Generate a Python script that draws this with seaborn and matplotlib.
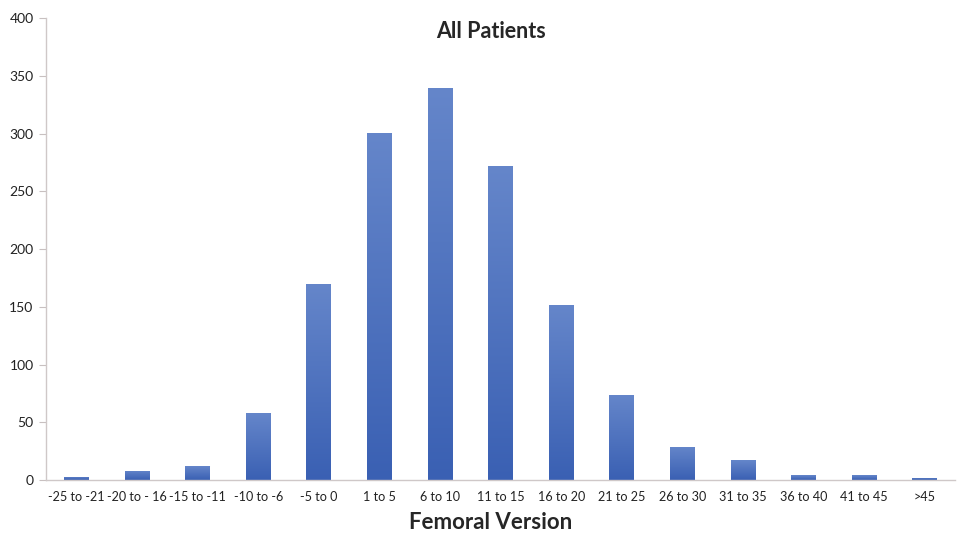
import matplotlib
matplotlib.use("Agg")
import matplotlib.pyplot as plt
import seaborn as sns
import numpy as np
import pandas as pd
from matplotlib.colors import LinearSegmentedColormap

categories = ["-25 to -21", "-20 to - 16", "-15 to -11", "-10 to -6", "-5 to 0",
              "1 to 5", "6 to 10", "11 to 15", "16 to 20", "21 to 25",
              "26 to 30", "31 to 35", "36 to 40", "41 to 45", ">45"]
counts = [3, 8, 12, 58, 170, 301, 340, 272, 152, 74, 29, 17, 4, 4, 2]
yticks = [0, 50, 100, 150, 200, 250, 300, 350, 400]

sns.set_style("white")
plt.rcParams["font.family"] = ["Lato", "DejaVu Sans"]

df = pd.DataFrame({"Femoral Version": categories, "Count": counts})

fig = plt.figure(figsize=(9.59, 5.37), dpi=100)
ax = fig.add_axes([0.048, 0.106, 0.948, 0.86])
sns.barplot(data=df, x="Femoral Version", y="Count", color="#4A6FBF",
            width=0.41, ax=ax, saturation=1)

# gradient fill clipped to each bar
cmap = LinearSegmentedColormap.from_list("g", ["#3A60B3", "#6586CA"])
grad = np.linspace(0, 1, 256).reshape(-1, 1)
for p in list(ax.patches):
    x0, w, h = p.get_x(), p.get_width(), p.get_height()
    im = ax.imshow(grad, extent=[x0, x0 + w, 0, h], origin="lower",
                   aspect="auto", cmap=cmap, zorder=p.get_zorder() + 0.1)
    im.set_clip_path(p)

ax.set_xlim(-0.5, len(categories) - 0.5)
ax.set_ylim(0, 400)
ax.set_yticks(yticks)
ax.set_yticklabels([str(v) for v in yticks], fontsize=10, color="#222222")
ax.set_xticks(range(len(categories)))
ax.set_xticklabels(categories, fontsize=9.1, color="#222222")
ax.tick_params(axis="x", which="major", length=0, pad=8)
ax.set_xticks(np.arange(0.5, len(categories) - 0.5, 1), minor=True)
ax.tick_params(axis="x", which="minor", length=5, color="#c8c0c0", direction="out")
ax.tick_params(axis="y", length=5, color="#c8c0c0", direction="out", pad=4, left=True)

for s in ["top", "right"]:
    ax.spines[s].set_visible(False)
for s in ["left", "bottom"]:
    ax.spines[s].set_color("#cfc8c8")
    ax.spines[s].set_linewidth(1.0)

ax.set_ylabel("")
ax.set_xlabel("Femoral Version", fontsize=16, fontweight="bold", labelpad=6)
ax.xaxis.set_label_coords(0.489, -0.07)
ax.set_title("All Patients", fontsize=15.5, fontweight="bold", x=0.489, y=0.94)

fig.savefig("out.png", dpi=100)
